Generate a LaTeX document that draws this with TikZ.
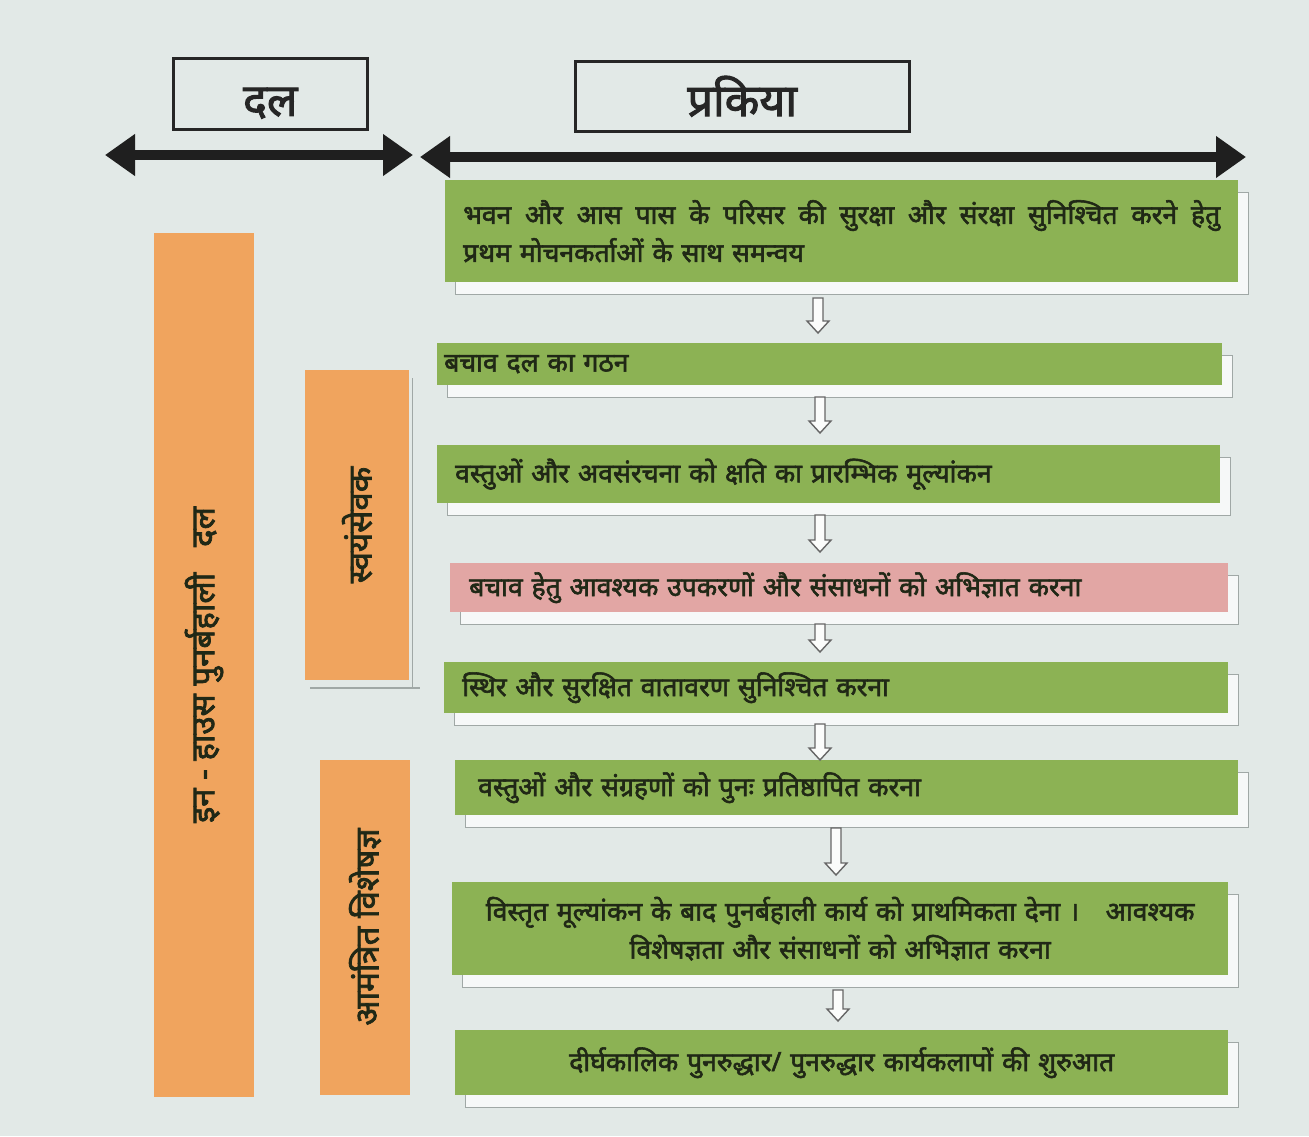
\documentclass[tikz,border=0pt]{standalone}
\usepackage{fontspec}
\newfontfamily\hi[Script=Devanagari, FakeBold=2.2]{Noto Sans}
\usetikzlibrary{arrows.meta,calc,shadows}
\definecolor{bg}{RGB}{226,233,231}
\definecolor{boxgreen}{RGB}{140,178,84}
\definecolor{boxpink}{RGB}{226,166,164}
\definecolor{boxorange}{RGB}{240,164,94}
\definecolor{txt}{RGB}{32,40,22}
\definecolor{edge}{RGB}{160,168,166}
\begin{document}
\begin{tikzpicture}[x=1pt,y=-1pt,
  hdr/.style={draw=black!85, line width=2.5pt, anchor=north west, inner sep=0pt,
    font=\hi\fontsize{45}{50}\selectfont, text=black!85},
  stepbox/.style={fill=boxgreen, anchor=north west, inner xsep=0pt, inner ysep=0pt,
    text=txt, font=\hi\fontsize{26.5}{38}\selectfont,
    general shadow={fill=white!70!bg, draw=edge, line width=1pt, shadow xshift=10pt, shadow yshift=-12pt}},
  sidebox/.style={fill=boxorange, rotate=90, inner sep=0pt, text=txt,
    font=\hi\fontsize{33}{36}\selectfont},
  bigarrow/.style={line width=10pt, black!88, {Triangle[length=30pt,width=40pt]}-{Triangle[length=30pt,width=40pt]}},
  hollow/.style={draw=black!60, fill=white!85!bg, line width=1.4pt, line join=miter}
]
\fill[bg] (0,0) rectangle (1309,1136);
\useasboundingbox (0,0) rectangle (1309,1136);

% headers
\node[hdr, minimum width=194pt, minimum height=71pt] (hdal) at (172,57) {\raisebox{-22pt}[0pt][0pt]{दल}};
\node[hdr, minimum width=334pt, minimum height=70pt] (hproc) at (574,60) {प्रकिया};

% double arrows
\coordinate (la) at (105,155);
\coordinate (lb) at (413,155);
\coordinate (ra) at (420,157);
\coordinate (rb) at (1246,157);
\draw[bigarrow] (la) -- (lb);
\draw[bigarrow] (ra) -- (rb);

% shadows for side boxes
\draw[edge, line width=1.5pt] (310,688) -- (420,688);
\draw[edge, line width=1pt] (412,378) -- (412,688);

% side boxes (team)
\node[sidebox, minimum width=864pt, minimum height=100pt] (inhouse) at (204,665)
  {इन - हाउस पुनर्बहाली\ \ \ दल};
\node[sidebox, minimum width=310pt, minimum height=104pt] (vol) at (357,525) {स्वयंसेवक};
\node[sidebox, minimum width=335pt, minimum height=90pt] (expert) at (365,927) {आमंत्रित विशेषज्ञ};

% process boxes
\node[stepbox, minimum width=793pt, minimum height=102pt, text width=757pt, align=left] (b1) at (445,180)
  {\hbox to 757pt{भवन\hfil और\hfil आस\hfil पास\hfil के\hfil परिसर\hfil की\hfil सुरक्षा\hfil और\hfil संरक्षा\hfil सुनिश्चित\hfil करने\hfil हेतु}\\ प्रथम मोचनकर्ताओं के साथ समन्वय};
\node[stepbox, minimum width=785pt, minimum height=42pt, text width=771pt, align=left] (b2) at (437,343)
  {बचाव दल का गठन};
\node[stepbox, minimum width=783pt, minimum height=58pt, text width=747pt, align=left] (b3) at (437,445)
  {वस्तुओं और अवसंरचना को क्षति का प्रारम्भिक मूल्यांकन};
\node[stepbox, fill=boxpink, minimum width=778pt, minimum height=49pt, text width=740pt, align=left] (b4) at (450,563)
  {बचाव हेतु आवश्यक उपकरणों और संसाधनों को अभिज्ञात करना};
\node[stepbox, minimum width=784pt, minimum height=51pt, text width=748pt, align=left] (b5) at (444,662)
  {स्थिर और सुरक्षित वातावरण सुनिश्चित करना};
\node[stepbox, minimum width=783pt, minimum height=55pt, text width=737pt, align=left] (b6) at (455,760)
  {वस्तुओं और संग्रहणों को पुनः प्रतिष्ठापित करना};
\node[stepbox, minimum width=776pt, minimum height=93pt, text width=740pt, align=center] (b7) at (452,882)
  {विस्तृत मूल्यांकन के बाद पुनर्बहाली कार्य को प्राथमिकता देना ।\quad आवश्यक\\ विशेषज्ञता और संसाधनों को अभिज्ञात करना};
\node[stepbox, minimum width=773pt, minimum height=65pt, text width=720pt, align=center] (b8) at (455,1030)
  {दीर्घकालिक पुनरुद्धार/ पुनरुद्धार कार्यकलापों की शुरुआत};

% hollow down arrows between steps
\newcommand\hollowarr[2]{%
  \draw[hollow] let \p1=(#1), \p2=(#2) in
    ($(\x1,\y1)+(-5,0)$) -- ($(\x1,\y1)+(5,0)$) -- ($(\x1,\y2)+(5,-12)$) --
    ($(\x1,\y2)+(11,-12)$) -- (\x1,\y2) -- ($(\x1,\y2)+(-11,-12)$) --
    ($(\x1,\y2)+(-5,-12)$) -- cycle;}
\coordinate (a1t) at (818,298); \coordinate (a1b) at (818,333);
\coordinate (a2t) at (820,397); \coordinate (a2b) at (820,433);
\coordinate (a3t) at (820,515); \coordinate (a3b) at (820,552);
\coordinate (a4t) at (820,624); \coordinate (a4b) at (820,652);
\coordinate (a5t) at (820,724); \coordinate (a5b) at (820,760);
\coordinate (a6t) at (836,828); \coordinate (a6b) at (836,875);
\coordinate (a7t) at (838,990); \coordinate (a7b) at (838,1021);
\hollowarr{a1t}{a1b}
\hollowarr{a2t}{a2b}
\hollowarr{a3t}{a3b}
\hollowarr{a4t}{a4b}
\hollowarr{a5t}{a5b}
\hollowarr{a6t}{a6b}
\hollowarr{a7t}{a7b}
\end{tikzpicture}
\end{document}
